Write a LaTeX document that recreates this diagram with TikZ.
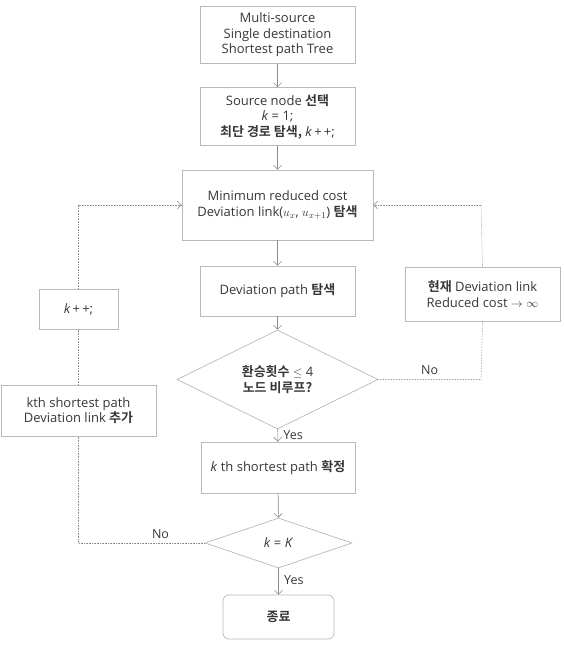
\documentclass[tikz,border=0pt]{standalone}
\usepackage{fontspec}
\setmainfont{Open Sans}
\newfontfamily\kr{Noto Sans CJK KR}[BoldFont={* Bold}]
\usetikzlibrary{shapes.geometric,arrows.meta}
\definecolor{boxline}{RGB}{185,185,185}
\definecolor{conn}{RGB}{140,140,140}
\definecolor{txt}{RGB}{55,55,55}
\newcommand{\K}[1]{{\kr\bfseries #1}}
\newcommand{\ik}{\textit{k}}
\begin{document}
\begin{tikzpicture}[x=1pt,y=-1pt,
  every node/.style={text=txt,font=\fontsize{13}{15.5}\selectfont},
  box/.style={draw=boxline,line width=0.7pt,align=center,inner sep=0pt},
  dia/.style={draw=boxline,line width=0.7pt,diamond,align=center,inner sep=0pt},
  flow/.style={draw=conn,line width=0.6pt,-{Straight Barb[length=4pt,width=8pt]}},
  loop/.style={draw=conn,line width=0.6pt,densely dotted},
  lab/.style={font=\fontsize{12.5}{14}\selectfont}]
\useasboundingbox (0,0) rectangle (564,663);
\node[box,minimum width=155pt,minimum height=57pt] (b1) at (277.5,35) {Multi-source\\Single destination\\Shortest path Tree};
\node[box,minimum width=155pt,minimum height=58pt] (b2) at (277.5,116.5) {Source node \K{선택}\\\ik{} = 1;\\\K{최단 경로 탐색,} \ik{}\,+\,+;};
\node[box,minimum width=191pt,minimum height=70pt] (b3) at (277.5,205) {Minimum reduced cost\\Deviation link($u_x$, $u_{x+1}$) \K{탐색}};
\node[box,minimum width=155pt,minimum height=50pt] (b4) at (277.5,291) {Deviation path \K{탐색}};
\node[dia,minimum width=201pt,minimum height=75pt] (d1) at (277.5,379.5) {\K{환승횟수} $\leq$ 4\\\K{노드 비루프?}};
\node[box,minimum width=154pt,minimum height=51pt] (b5) at (278,467.5) {\ik{} th shortest path \K{확정}};
\node[dia,minimum width=147pt,minimum height=50pt] (d2) at (278.5,543) {\ik{} = \textit{K}};
\node[box,rounded corners=6pt,minimum width=111pt,minimum height=44pt] (end) at (278.5,617) {\K{종료}};
\node[box,minimum width=79pt,minimum height=40pt] (kpp) at (78.5,309) {\ik{}\,+\,+;};
\node[box,minimum width=155pt,minimum height=51pt] (kth) at (78.5,410.5) {kth shortest path\\Deviation link \K{추가}};
\node[box,minimum width=155pt,minimum height=54pt] (cur) at (482.5,294) {\K{현재} Deviation link\\Reduced cost $\rightarrow\infty$};
\coordinate (r1) at (481,379.5);
\coordinate (r2) at (481,205);
\coordinate (l1) at (78.5,543);
\coordinate (l2) at (78.5,205);
\draw[flow] (b1) -- (b2);
\draw[flow] (b2) -- (b3);
\draw[flow] (b3) -- (b4);
\draw[flow] (b4) -- (d1);
\draw[flow] (d1) -- node[lab,right,pos=0.45,xshift=2pt]{Yes} (b5);
\draw[flow] (b5) -- (d2);
\draw[flow] (d2) -- node[lab,right,pos=0.45,xshift=2pt]{Yes} (end);
\draw[loop] (d1.east) -- node[lab,above,pos=0.5,yshift=1pt]{No} (r1) -- (cur.south);
\draw[loop] (cur.north) -- (r2);
\draw[loop,-{Straight Barb[length=4pt,width=8pt]}] (r2) -- (b3.east);
\draw[loop] (d2.west) -- node[lab,above,pos=0.35,yshift=1pt]{No} (l1) -- (kth.south);
\draw[loop] (kth.north) -- (kpp.south);
\draw[loop] (kpp.north) -- (l2);
\draw[loop,-{Straight Barb[length=4pt,width=8pt]}] (l2) -- (b3.west);
\end{tikzpicture}
\end{document}
